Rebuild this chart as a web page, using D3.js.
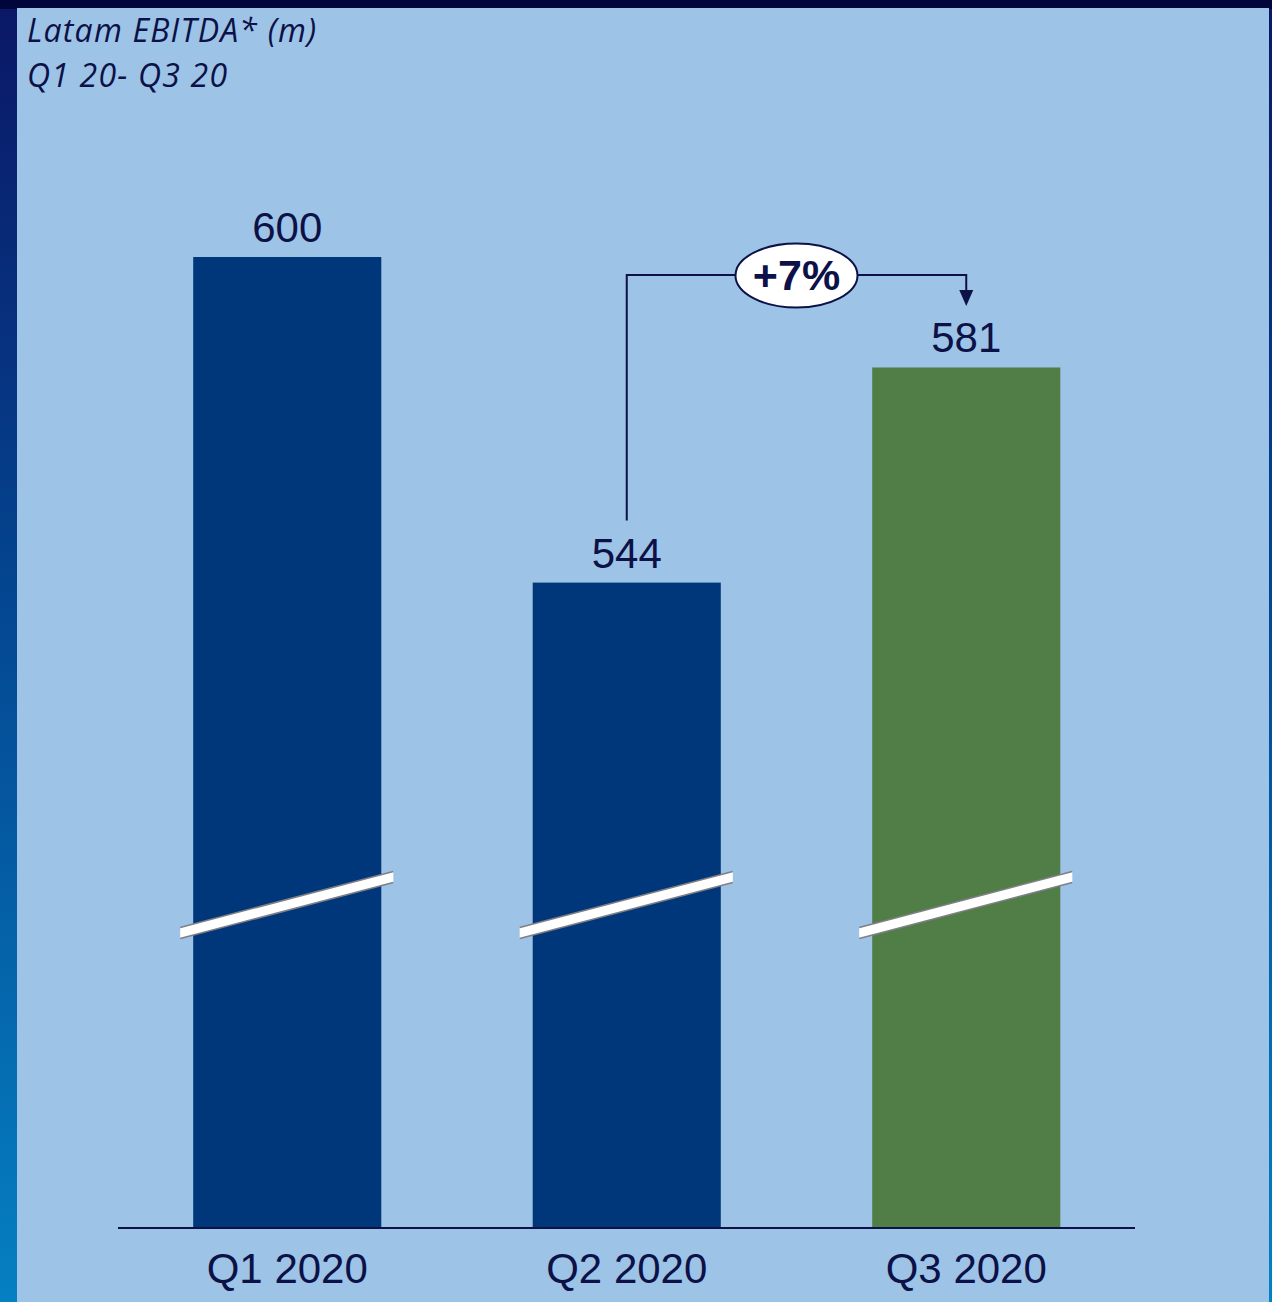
<!DOCTYPE html>
<html>
<head>
<meta charset="utf-8">
<script src="https://cdn.jsdelivr.net/npm/d3@7/dist/d3.min.js"></script>
<style>
  html, body { margin: 0; padding: 0; background: #00073a; }
  svg { display: block; }
</style>
</head>
<body>
<svg id="chart" width="1272" height="1302"></svg>
<script>
// Quarterly Latam EBITDA, millions
const categories = ["Q1 2020", "Q2 2020", "Q3 2020"];
const values = [600, 544, 581];
const barColors = ["#00377a", "#00377a", "#517e46"];
const titleLines = ["Latam EBITDA* (m)", "Q1 20- Q3 20"];
const growthLabel = "+7%";
const growthFrom = 1;   // index of Q2 bar
const growthTo = 2;     // index of Q3 bar
// The value axis is broken: bars start from this floor value
const axisFloor = 433;

const W = 1272, H = 1302;
const navy = "#0c1147";
const svg = d3.select("#chart");
const defs = svg.append("defs");

// Outer frame: dark navy at top fading to a bright blue at the bottom
const grad = defs.append("linearGradient")
  .attr("id", "frameGrad").attr("x1", 0).attr("y1", 0).attr("x2", 0).attr("y2", 1);
grad.append("stop").attr("offset", "0%").attr("stop-color", "#0a1766");
grad.append("stop").attr("offset", "45%").attr("stop-color", "#044590");
grad.append("stop").attr("offset", "100%").attr("stop-color", "#0580c2");
svg.append("rect").attr("width", W).attr("height", H).attr("fill", "url(#frameGrad)");
svg.append("rect").attr("width", W).attr("height", 9).attr("fill", "#00063a");

// Light panel holding the chart
svg.append("rect")
  .attr("x", 17).attr("y", 8).attr("width", 1252).attr("height", H + 20)
  .attr("rx", 10)
  .attr("fill", "#9dc3e6");
svg.append("rect").attr("x", 17).attr("y", 8).attr("width", 1252).attr("height", 20).attr("fill", "#9dc3e6");

// Title
const title = svg.append("text")
  .attr("font-family", "'Open Sans', Lato, sans-serif")
  .attr("font-style", "italic")
  .attr("font-size", 32)
  .attr("letter-spacing", 1.2)
  .attr("fill", navy);
titleLines.forEach((t, i) => {
  title.append("tspan").attr("x", 27).attr("y", 42 + i * 45).text(t);
});

// Scales
const baseline = 1228;
const x = d3.scaleBand()
  .domain(categories)
  .range([117.5, 1136])
  .paddingInner(0.446)
  .paddingOuter(0.223);
const y = d3.scaleLinear()
  .domain([axisFloor, 600])
  .range([baseline, 257]);

const data = categories.map((c, i) => ({ cat: c, value: values[i], color: barColors[i] }));

// Bars
svg.append("g").selectAll("rect")
  .data(data)
  .join("rect")
  .attr("x", d => x(d.cat))
  .attr("y", d => y(d.value))
  .attr("width", x.bandwidth())
  .attr("height", d => baseline - y(d.value))
  .attr("fill", d => d.color);

// Axis break marks: slanted white bands across each bar
const breakG = svg.append("g");
data.forEach(d => {
  const x0 = x(d.cat) - 13, x1 = x(d.cat) + x.bandwidth() + 12;
  const yl = 933, yr = 877, half = 5.5;
  breakG.append("path")
    .attr("d", `M${x0},${yl - half}L${x1},${yr - half}L${x1},${yr + half}L${x0},${yl + half}Z`)
    .attr("fill", "#ffffff");
  breakG.append("path")
    .attr("d", `M${x0},${yl - half}L${x1},${yr - half}M${x0},${yl + half}L${x1},${yr + half}`)
    .attr("stroke", "#7f7f86").attr("stroke-width", 1.5).attr("fill", "none");
});

// Value labels
svg.append("g").selectAll("text")
  .data(data)
  .join("text")
  .attr("x", d => x(d.cat) + x.bandwidth() / 2)
  .attr("y", d => y(d.value) - 15)
  .attr("text-anchor", "middle")
  .attr("font-family", "'Liberation Sans', Arial, sans-serif")
  .attr("font-size", 42)
  .attr("fill", navy)
  .text(d => d.value);

// Category axis
const axis = svg.append("g")
  .attr("transform", `translate(0,${baseline})`)
  .call(d3.axisBottom(x).tickSize(0).tickPadding(25));
axis.select(".domain").remove();
axis.selectAll("text")
  .attr("font-family", "'Liberation Sans', Arial, sans-serif")
  .attr("font-size", 42)
  .attr("fill", navy);
svg.append("line")
  .attr("x1", 118).attr("x2", 1135)
  .attr("y1", baseline).attr("y2", baseline)
  .attr("stroke", navy).attr("stroke-width", 2);

// Growth annotation from Q2 to Q3
const fromX = x(categories[growthFrom]) + x.bandwidth() / 2;
const toX = x(categories[growthTo]) + x.bandwidth() / 2;
const lineY = 275;
const tipY = 306;
svg.append("path")
  .attr("d", `M${fromX},${y(values[growthFrom]) - 62}V${lineY}H${toX}V${tipY - 14}`)
  .attr("fill", "none")
  .attr("stroke", navy)
  .attr("stroke-width", 2);
svg.append("path")
  .attr("d", `M${toX - 7},${tipY - 16}L${toX + 7},${tipY - 16}L${toX},${tipY}Z`)
  .attr("fill", navy);
const midX = (fromX + toX) / 2;
svg.append("ellipse")
  .attr("cx", midX).attr("cy", lineY + 0.5)
  .attr("rx", 61).attr("ry", 32)
  .attr("fill", "#ffffff")
  .attr("stroke", navy)
  .attr("stroke-width", 2);
svg.append("text")
  .attr("x", midX).attr("y", lineY + 15)
  .attr("text-anchor", "middle")
  .attr("font-family", "'Liberation Sans', Arial, sans-serif")
  .attr("font-weight", "bold")
  .attr("font-size", 43)
  .attr("fill", navy)
  .text(growthLabel);
</script>
</body>
</html>
